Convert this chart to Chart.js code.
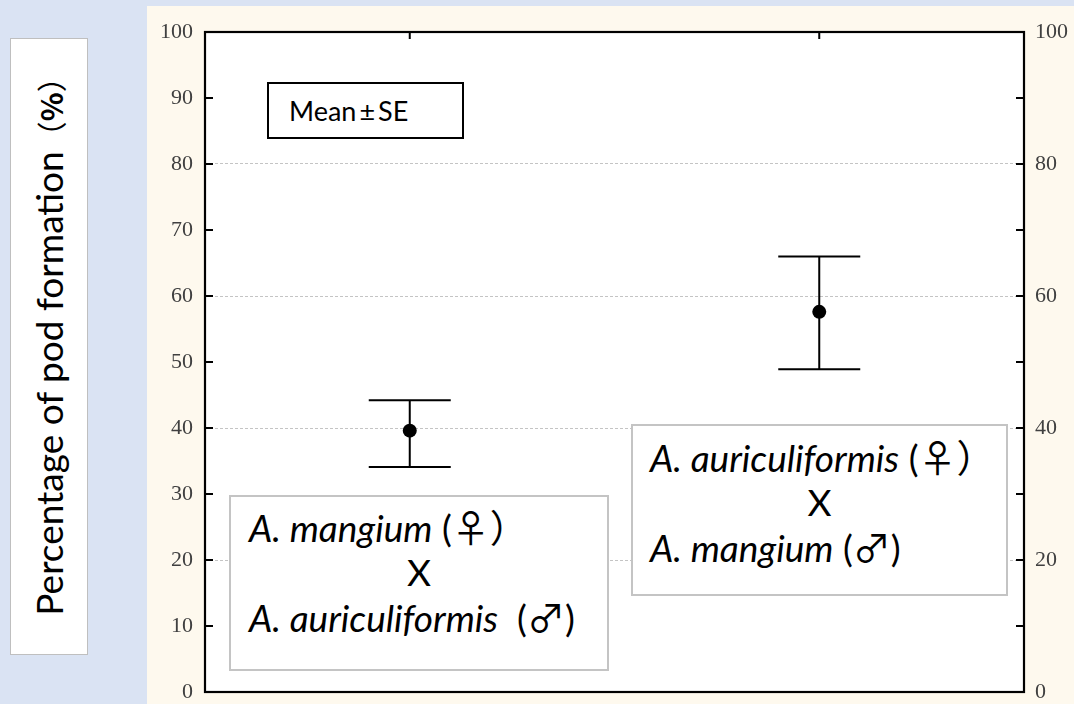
<!DOCTYPE html>
<html>
<head>
<meta charset="utf-8">
<script src="https://cdn.jsdelivr.net/npm/chart.js@4"></script>
<style>
  html, body { margin: 0; padding: 0; }
  body {
    width: 1074px; height: 704px; position: relative; overflow: hidden;
    background: #dae3f3;
    font-family: Lato, 'Noto Sans CJK JP', sans-serif;
    color: #000;
  }
  #panel { position: absolute; left: 147px; top: 6px; width: 927px; height: 698px; background: #fef9ee; }
  #chart { position: absolute; left: 0; top: 0; }
  .box { position: absolute; box-sizing: border-box; background: #fff; }
  .ytitle { left: 10px; top: 38px; width: 78px; height: 617px; border: 1.5px solid #bfbfbf; }
  .ytitle > span {
    position: absolute; left: 50%; top: calc(50% - 8px); white-space: nowrap;
    transform: translate(-50%, -50%) rotate(-90deg);
    font-size: 37px;
  }
  .ytitle .pct { font-family: 'Noto Sans CJK JP', sans-serif; font-size: 30px; }
  .note { border: 2px solid #c4c4c4; font-size: 37px; line-height: 44px; white-space: nowrap; }
  .note .x { text-align: center; font-style: normal; }
  .sym { font-family: 'Noto Sans CJK JP', sans-serif; font-style: normal; font-size: 38px; }
  .mean { left: 267px; top: 82px; width: 197px; height: 57px; border: 2px solid #000;
          font-size: 27px; line-height: 53px; padding-left: 20px; }
  .mean span { margin: 0 3px; }
</style>
</head>
<body>
<div id="panel"><canvas id="chart" width="927" height="698"></canvas></div>

<div class="box ytitle"><span>Percentage of pod formation<span class="pct">（<b>%</b>）</span></span></div>

<div class="box mean">Mean<span>±</span>SE</div>

<div class="box note" style="left:229px;top:495px;width:380px;height:176px;padding:7px 0 0 18px;">
  <div><i>A. mangium</i> (<span class="sym">♀）</span></div>
  <div class="x" style="margin-left:-18px">X</div>
  <div><i>A. auriculiformis</i>&nbsp; (<span class="sym">♂</span>)</div>
</div>

<div class="box note" style="left:631px;top:424px;width:377px;height:172px;padding:8px 0 0 17px;">
  <div><i>A. auriculiformis</i> (<span class="sym">♀）</span></div>
  <div class="x" style="margin-left:-17px">X</div>
  <div><i>A. mangium</i> (<span class="sym">♂</span>)</div>
</div>

<script>
// crosses (female x male)
const categories = ['A. mangium (♀) × A. auriculiformis (♂)', 'A. auriculiformis (♀) × A. mangium (♂)'];
const meanValues = [39.6, 57.6];
const seLower = [34.1, 48.9];
const seUpper = [44.2, 66.0];
const gridValues = [20, 40, 60, 80];

const tickFont = { family: "'Liberation Serif', serif", size: 22 };

// fixed axis widths, no extra label overflow padding
function fitAxis(width) {
    return s => {
        s.width = width;
        s.paddingTop = 0;
        s.paddingBottom = 0;
    };
}

// white plot area, error bars, frame and inward ticks
const framePlugin = {
    id: 'frame',
    beforeDraw(chart) {
        const { ctx, chartArea: a } = chart;
        ctx.save();
        ctx.fillStyle = '#fff';
        ctx.fillRect(a.left, a.top, a.right - a.left, a.bottom - a.top);
        ctx.restore();
    },
    beforeDatasetsDraw(chart) {
        const { ctx } = chart;
        const x = chart.scales.x, y = chart.scales.y;
        ctx.save();
        ctx.strokeStyle = '#000';
        ctx.lineWidth = 2;
        meanValues.forEach((m, i) => {
            const px = x.getPixelForValue(i);
            const hi = y.getPixelForValue(seUpper[i]);
            const lo = y.getPixelForValue(seLower[i]);
            ctx.beginPath();
            ctx.moveTo(px, hi); ctx.lineTo(px, lo);
            ctx.moveTo(px - 41, hi); ctx.lineTo(px + 41, hi);
            ctx.moveTo(px - 41, lo); ctx.lineTo(px + 41, lo);
            ctx.stroke();
        });
        ctx.restore();
    },
    afterDraw(chart) {
        const { ctx, chartArea: a } = chart;
        const x = chart.scales.x, y = chart.scales.y;
        ctx.save();
        ctx.strokeStyle = '#000';
        ctx.lineWidth = 2;
        ctx.beginPath();
        y.ticks.forEach(t => {
            const py = y.getPixelForValue(t.value);
            ctx.moveTo(a.left, py); ctx.lineTo(a.left + 8, py);
            ctx.moveTo(a.right, py); ctx.lineTo(a.right - 8, py);
        });
        categories.forEach((c, i) => {
            const px = x.getPixelForValue(i);
            ctx.moveTo(px, a.top); ctx.lineTo(px, a.top + 7);
        });
        ctx.stroke();
        ctx.lineWidth = 2.2;
        ctx.strokeRect(a.left, a.top, a.right - a.left, a.bottom - a.top);
        ctx.restore();
    }
};

new Chart(document.getElementById('chart'), {
    type: 'line',
    data: {
        labels: categories,
        datasets: [{
            data: meanValues,
            showLine: false,
            pointRadius: 7,
            pointBackgroundColor: '#000',
            pointBorderWidth: 0
        }]
    },
    options: {
        responsive: false,
        animation: false,
        events: [],
        layout: { autoPadding: false, padding: { top: 26, bottom: 12, left: 0, right: 0 } },
        plugins: { legend: { display: false }, tooltip: { enabled: false } },
        scales: {
            x: { type: 'category', offset: true, display: false },
            y: {
                position: 'left',
                min: 0, max: 100,
                afterFit: fitAxis(58),
                ticks: { stepSize: 10, padding: 12, color: '#404040', font: tickFont },
                grid: {
                    drawTicks: false,
                    lineWidth: 1,
                    color: c => (c.tick && gridValues.includes(c.tick.value)) ? '#c4c4c4' : 'rgba(0,0,0,0)'
                },
                border: { display: false, dash: [3, 2] }
            },
            y2: {
                position: 'right',
                min: 0, max: 100,
                afterFit: fitAxis(50),
                ticks: {
                    stepSize: 10, padding: 11, color: '#404040', font: tickFont,
                    callback: v => (v % 20 === 0 ? v : '')
                },
                grid: { drawOnChartArea: false, drawTicks: false },
                border: { display: false }
            }
        }
    },
    plugins: [framePlugin]
});
</script>
</body>
</html>
